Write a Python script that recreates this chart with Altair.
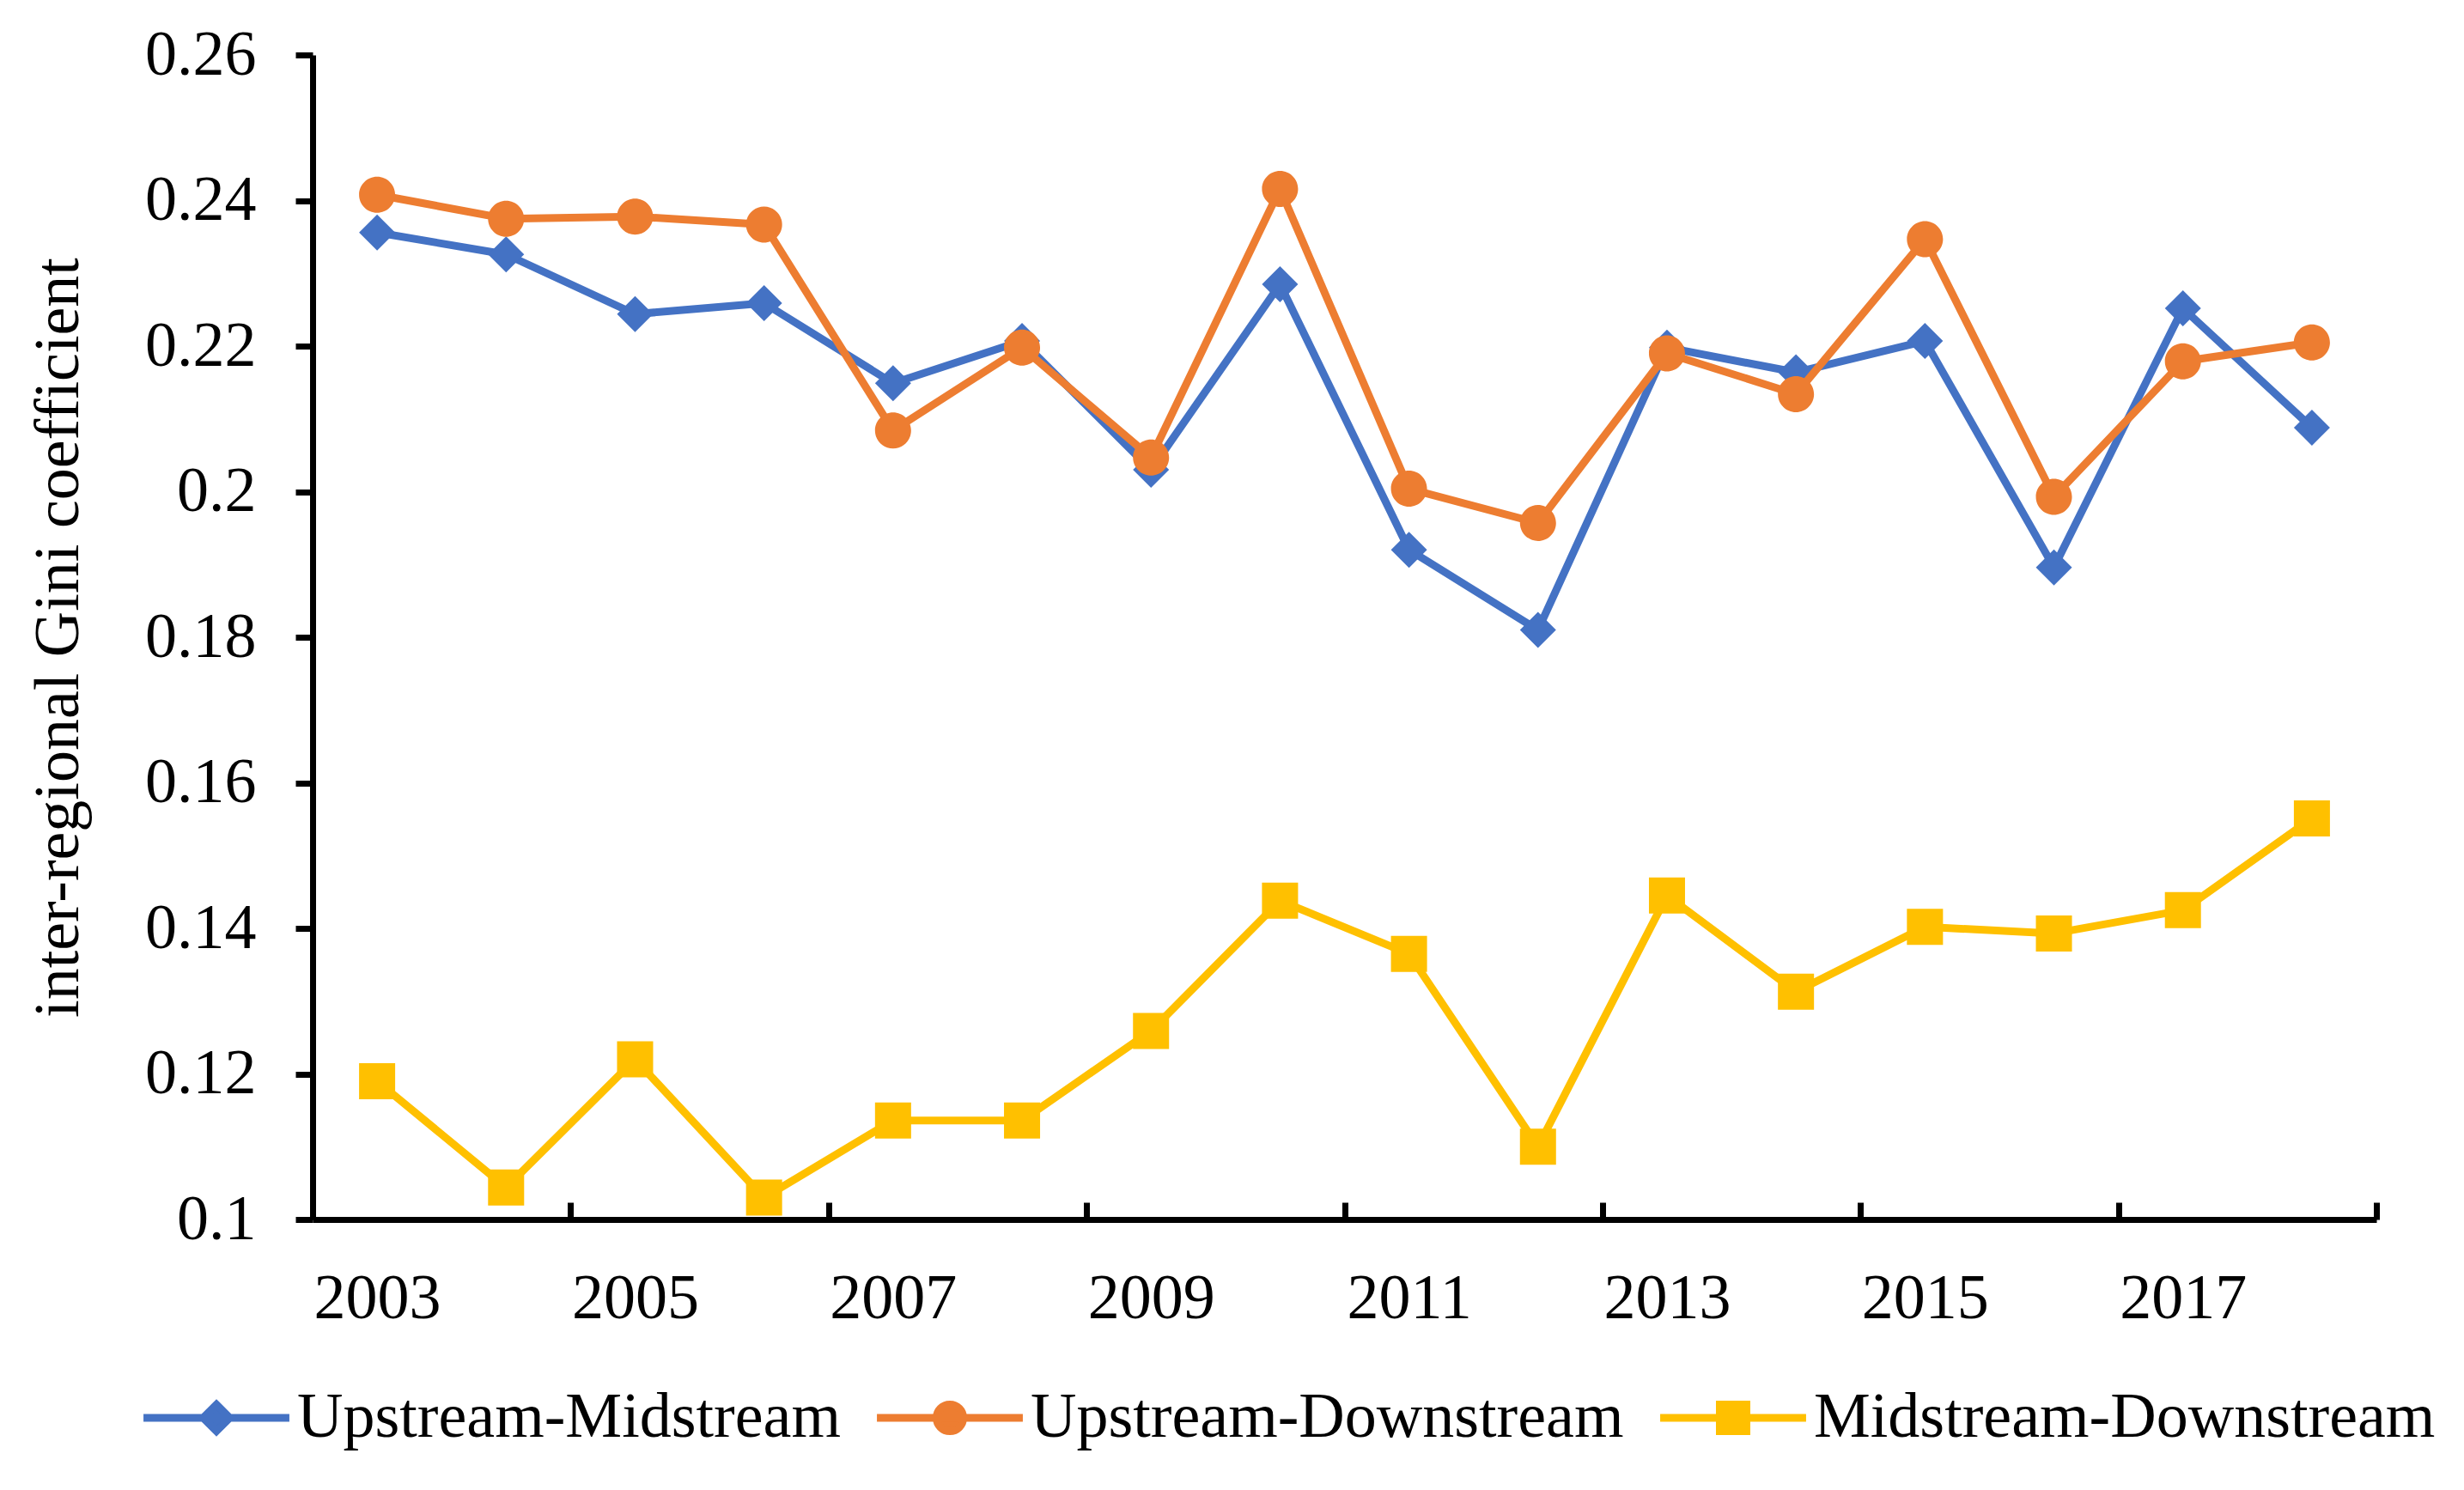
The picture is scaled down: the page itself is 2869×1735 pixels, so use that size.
import altair as alt
import pandas as pd

years = list(range(2003, 2019))
series_names = ["Upstream-Midstream", "Upstream-Downstream", "Midstream-Downstream"]
upstream_midstream = [0.2356, 0.2326, 0.2244, 0.2259, 0.2149, 0.2207, 0.2030, 0.2285,
                      0.1920, 0.1810, 0.2198, 0.2164, 0.2207, 0.1896, 0.2252, 0.2088]
upstream_downstream = [0.2408, 0.2375, 0.2378, 0.2367, 0.2084, 0.2198, 0.2047, 0.2416,
                       0.2004, 0.1957, 0.2190, 0.2134, 0.2347, 0.1993, 0.2179, 0.2205]
midstream_downstream = [0.1190, 0.1044, 0.1220, 0.1030, 0.1136, 0.1136, 0.1259, 0.1438,
                        0.1365, 0.1100, 0.1445, 0.1313, 0.1402, 0.1393, 0.1425, 0.1551]
colors = ["#4472C4", "#ED7D31", "#FFC000"]
y_ticks = [0.1, 0.12, 0.14, 0.16, 0.18, 0.2, 0.22, 0.24, 0.26]
x_labels = [2003, 2005, 2007, 2009, 2011, 2013, 2015, 2017]
x_tick_marks = [2002.5, 2004.5, 2006.5, 2008.5, 2010.5, 2012.5, 2014.5, 2016.5, 2018.5]

# marker shapes with a horizontal line segment (visible only in the legend, where symbols are stroked)
shape_paths = [
    "M-5.48,0H5.48M0,-1L1,0L0,1L-1,0Z",
    "M-5.48,0H5.48M1,0A1,1,0,1,1,-1,0A1,1,0,1,1,1,0Z",
    "M-5.48,0H5.48M-1,-1H1V1H-1Z",
]

rows = []
for name, vals in zip(series_names, [upstream_midstream, upstream_downstream, midstream_downstream]):
    for yr, v in zip(years, vals):
        rows.append({"year": yr, "value": v, "series": name})
df = pd.DataFrame(rows)

FONT = "Liberation Serif"
FS = 74

x_scale = alt.Scale(domain=[2002.5, 2018.5], nice=False, zero=False)
y_scale = alt.Scale(domain=[0.1, 0.26], nice=False, zero=False)

x_axis_labels = alt.Axis(orient="bottom", values=x_labels, format="d", ticks=False, tickSize=0,
                         domain=True, domainWidth=7, domainColor="black", labelFont=FONT,
                         labelFontSize=FS, labelColor="black", labelPadding=56, labelFlush=False,
                         labelOverlap=False, grid=False, title=None)
x_axis_ticks = alt.Axis(orient="bottom", values=x_tick_marks, labels=False, domain=False, ticks=True,
                        tickSize=20, tickWidth=7, tickColor="black", offset=-20, grid=False, title=None)
y_axis = alt.Axis(orient="left", values=y_ticks, format="~g", tickSize=20, tickWidth=7,
                  tickColor="black", domainWidth=7, domainColor="black", grid=False, labelFont=FONT,
                  labelFontSize=FS, labelColor="black", labelPadding=46, labelFlush=False,
                  title="inter-regional Gini coefficient", titleFont=FONT, titleFontSize=FS,
                  titleFontWeight="normal", titleColor="black", titleX=-274, titleY=678,
                  titleAngle=270, titleBaseline="alphabetic", titleAlign="center")

fill_scale = alt.Scale(domain=series_names, range=colors)
stroke_scale = alt.Scale(domain=series_names, range=colors)
shape_scale = alt.Scale(domain=series_names, range=shape_paths)

legend = alt.Legend(title=None, orient="none", legendX=-149, legendY=1550, direction="horizontal",
                    symbolSize=961, symbolStrokeWidth=9, labelOffset=57, columnPadding=24,
                    labelFont=FONT, labelFontSize=FS, labelColor="black", labelLimit=3000, padding=0)

base = alt.Chart(df)
layers = []
for i, name in enumerate(series_names):
    sub = base.transform_filter(alt.datum.series == name)
    line = sub.mark_line(strokeWidth=9, strokeJoin="round", color=colors[i]).encode(
        x=alt.X("year:Q", scale=x_scale, axis=x_axis_labels if i == 0 else None),
        y=alt.Y("value:Q", scale=y_scale, axis=y_axis if i == 0 else None),
    )
    pts = sub.mark_point(filled=True, opacity=1, size=1764).encode(
        x=alt.X("year:Q", scale=x_scale, axis=x_axis_ticks if i == 0 else None),
        y=alt.Y("value:Q", scale=y_scale, axis=None),
        fill=alt.Fill("series:N", scale=fill_scale, legend=legend),
        stroke=alt.Stroke("series:N", scale=stroke_scale, legend=legend),
        shape=alt.Shape("series:N", scale=shape_scale, legend=legend),
        strokeWidth=alt.value(0),
    )
    layers += [line, pts]

chart = alt.layer(*layers).resolve_axis(x="independent", y="independent").properties(
    width=2403, height=1356,
    autosize=alt.AutoSizeParams(type="none"),
    padding={"left": 356, "top": 56, "right": 90, "bottom": 300},
    background="white",
).configure_view(stroke=None)

chart.save("out.html", embed_options={"renderer": "svg", "actions": False})
